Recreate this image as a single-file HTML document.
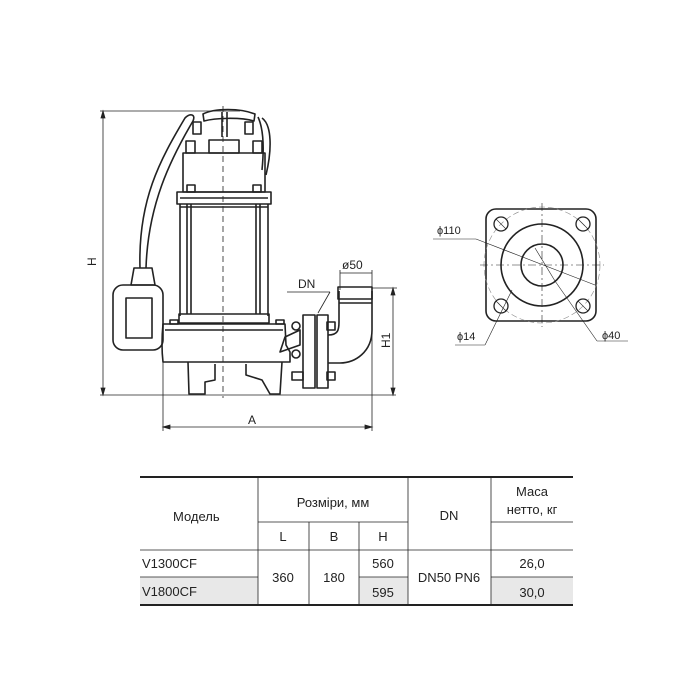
<!DOCTYPE html>
<html><head><meta charset="utf-8"><style>
html,body{margin:0;padding:0;background:#fff;}
svg{display:block;}
text{font-family:"Liberation Sans","DejaVu Sans",sans-serif;fill:#222;}
</style></head><body>
<svg width="700" height="700" viewBox="0 0 700 700" xmlns="http://www.w3.org/2000/svg">
<g stroke="#222" fill="none" stroke-width="0.8">
<!-- H dimension -->
<line x1="103" y1="111" x2="103" y2="395"/>
<line x1="100" y1="111" x2="240" y2="111"/>
<line x1="100" y1="395" x2="396" y2="395"/>
<path d="M101,118 L103,111 L105,118Z M101,388 L103,395 L105,388Z" fill="#222"/>
<!-- center line -->
<line x1="223" y1="106" x2="223" y2="398" stroke-dasharray="6,4"/>
<!-- A dim -->
<line x1="163" y1="362" x2="163" y2="431"/>
<line x1="372" y1="330" x2="372" y2="431"/>
<line x1="163" y1="427" x2="372" y2="427"/>
<path d="M170,425 L163,427 L170,429Z M365,425 L372,427 L365,429Z" fill="#222"/>
<!-- H1 dim -->
<line x1="372" y1="288" x2="397" y2="288"/>
<line x1="393" y1="288" x2="393" y2="395"/>
<path d="M391,295 L393,288 L395,295Z M391,388 L393,395 L395,388Z" fill="#222"/>
<!-- ø50 dim -->
<line x1="340" y1="270" x2="340" y2="290"/>
<line x1="372" y1="270" x2="372" y2="290"/>
<line x1="340" y1="273" x2="372" y2="273"/>
<!-- DN leader -->
<line x1="287" y1="292" x2="330" y2="292"/>
<line x1="330" y1="292" x2="318" y2="313"/>
</g>
<g stroke="#222" fill="none" stroke-width="1.6" stroke-linejoin="round">
<!-- cables -->
<path d="M140,268 C138,200 160,160 185,118 C190,113 196,114 193,121 C170,160 148,205 146,268"/>
<path d="M262,118 C272,125 272,150 266,175 M258,117 C264,130 264,150 262,170"/>
<path d="M203,114 C215,108 240,108 255,114 L254,121 C240,117 215,118 204,121Z"/>
<path d="M222,112 L222,137 M227,112 L227,137"/>
<!-- top studs -->
<rect x="193" y="122" width="8" height="12"/><rect x="245" y="122" width="8" height="12"/>
<rect x="186" y="141" width="9" height="12"/><rect x="253" y="141" width="9" height="12"/>
<!-- top box -->
<rect x="209" y="140" width="30" height="13"/>
<!-- cap -->
<rect x="183" y="153" width="82" height="39"/>
<rect x="187" y="185" width="8" height="7"/><rect x="253" y="185" width="8" height="7"/>
<!-- flange ring -->
<rect x="177" y="192" width="94" height="12"/>
<line x1="180" y1="198" x2="268" y2="198"/>
<!-- column -->
<line x1="180" y1="204" x2="180" y2="316"/>
<line x1="268" y1="204" x2="268" y2="316"/>
<line x1="187" y1="204" x2="187" y2="314"/><line x1="191" y1="204" x2="191" y2="314"/>
<line x1="256" y1="204" x2="256" y2="314"/><line x1="260" y1="204" x2="260" y2="314"/>
<line x1="180" y1="207" x2="268" y2="207"/>
<!-- base plate -->
<rect x="179" y="314" width="90" height="9"/>
<rect x="170" y="320" width="8" height="4"/><rect x="276" y="320" width="8" height="4"/>
<!-- lower body -->
<path d="M163,324 L285,324 L286,345 L290,352 L290,362 L163,362 Q161,345 163,324Z"/>
<line x1="165" y1="330" x2="283" y2="330"/>
<!-- feet -->
<path d="M188,362 L189,394 L205,394 L205,382 L215,380 L215,364"/>
<path d="M246,364 L246,375 L262,380 L270,394 L280,394 L282,362"/>
<!-- float -->
<path d="M134,268 L152,268 L155,285 L131,285Z"/>
<rect x="113" y="285" width="50" height="65" rx="10"/>
<rect x="126" y="298" width="26" height="40"/>
<!-- discharge -->
<path d="M285,337 L300,330 L300,345 L280,352 Z"/>
<circle cx="296" cy="326" r="4"/><circle cx="296" cy="354" r="4"/>
<rect x="292" y="372" width="11" height="8"/><rect x="327" y="322" width="8" height="8"/><rect x="327" y="372" width="8" height="8"/>
<rect x="303" y="315" width="12" height="73"/>
<rect x="317" y="315" width="11" height="73"/>
<!-- elbow -->
<path d="M328,335 C338,335 339,330 339,322 L339,291 M372,291 L372,330 C372,352 355,363 340,363 L328,363"/>
<rect x="338" y="287" width="34" height="12"/>
<line x1="339" y1="303" x2="372" y2="303"/>
</g>
<text x="88" y="258" font-size="12" transform="rotate(-90 96 258)">H</text>
<text x="248" y="424" font-size="12">A</text>
<text x="298" y="288" font-size="12">DN</text>
<text x="342" y="269" font-size="12">ø50</text>
<text x="390" y="348" font-size="12" transform="rotate(-90 390 348)">H1</text>

<!-- flange view -->
<g stroke="#222" fill="none">
<rect x="486" y="209" width="110" height="112" rx="10" stroke-width="1.6"/>
<circle cx="542" cy="265" r="41" stroke-width="1.6"/>
<circle cx="542" cy="265" r="21" stroke-width="1.6"/>
<circle cx="542" cy="265" r="58" stroke-width="0.6" stroke="#888" stroke-dasharray="6,3"/>
<line x1="542" y1="203" x2="542" y2="327" stroke-width="0.6" stroke-dasharray="8,3,2,3"/>
<line x1="480" y1="265" x2="604" y2="265" stroke-width="0.6" stroke-dasharray="8,3,2,3"/>
<g stroke-width="1.3">
<circle cx="501" cy="224" r="7"/><circle cx="583" cy="224" r="7"/>
<circle cx="501" cy="306" r="7"/><circle cx="583" cy="306" r="7"/>
</g>
<g stroke-width="0.6">
<path d="M496,219 L506,229 M578,219 L588,229 M496,301 L506,311 M578,301 L588,311"/>
<line x1="433" y1="239" x2="476" y2="239"/>
<line x1="476" y1="239" x2="595" y2="285"/>
<line x1="535" y1="248" x2="555" y2="281"/>
<line x1="555" y1="281" x2="597" y2="341"/>
<line x1="597" y1="341" x2="628" y2="341"/>
<line x1="455" y1="345" x2="485" y2="345"/>
<line x1="485" y1="345" x2="512" y2="290"/>
</g>
</g>
<text x="437" y="234" font-size="11">ϕ110</text>
<text x="457" y="340" font-size="11">ϕ14</text>
<text x="602" y="339" font-size="11">ϕ40</text>

<!-- table -->
<rect x="140" y="577" width="118" height="28" fill="#e8e8e8"/>
<rect x="359" y="577" width="49" height="28" fill="#e8e8e8"/>
<rect x="491" y="577" width="82" height="28" fill="#e8e8e8"/>
<g stroke="#222" stroke-width="0.8" fill="none">
<line x1="140" y1="477" x2="573" y2="477" stroke-width="2"/>
<line x1="140" y1="605" x2="573" y2="605" stroke-width="2"/>
<line x1="140" y1="550" x2="573" y2="550"/>
<line x1="258" y1="522" x2="408" y2="522"/>
<line x1="491" y1="522" x2="573" y2="522"/>
<line x1="140" y1="577" x2="258" y2="577"/>
<line x1="359" y1="577" x2="408" y2="577"/>
<line x1="491" y1="577" x2="573" y2="577"/>
<line x1="258" y1="477" x2="258" y2="605"/>
<line x1="309" y1="522" x2="309" y2="605"/>
<line x1="359" y1="522" x2="359" y2="605"/>
<line x1="408" y1="477" x2="408" y2="605"/>
<line x1="491" y1="477" x2="491" y2="605"/>
</g>
<g font-size="13">
<text x="173" y="521">Модель</text>
<text x="333" y="507" text-anchor="middle">Розміри, мм</text>
<text x="449" y="520" text-anchor="middle">DN</text>
<text x="532" y="496" text-anchor="middle">Маса</text>
<text x="532" y="514" text-anchor="middle">нетто, кг</text>
<text x="283" y="541" text-anchor="middle">L</text>
<text x="334" y="541" text-anchor="middle">B</text>
<text x="383" y="541" text-anchor="middle">H</text>
<text x="142" y="568">V1300CF</text>
<text x="142" y="596">V1800CF</text>
<text x="283" y="582" text-anchor="middle">360</text>
<text x="334" y="582" text-anchor="middle">180</text>
<text x="383" y="568" text-anchor="middle">560</text>
<text x="383" y="597" text-anchor="middle">595</text>
<text x="449" y="582" text-anchor="middle">DN50 PN6</text>
<text x="532" y="568" text-anchor="middle">26,0</text>
<text x="532" y="597" text-anchor="middle">30,0</text>
</g>
</svg>
</body></html>
